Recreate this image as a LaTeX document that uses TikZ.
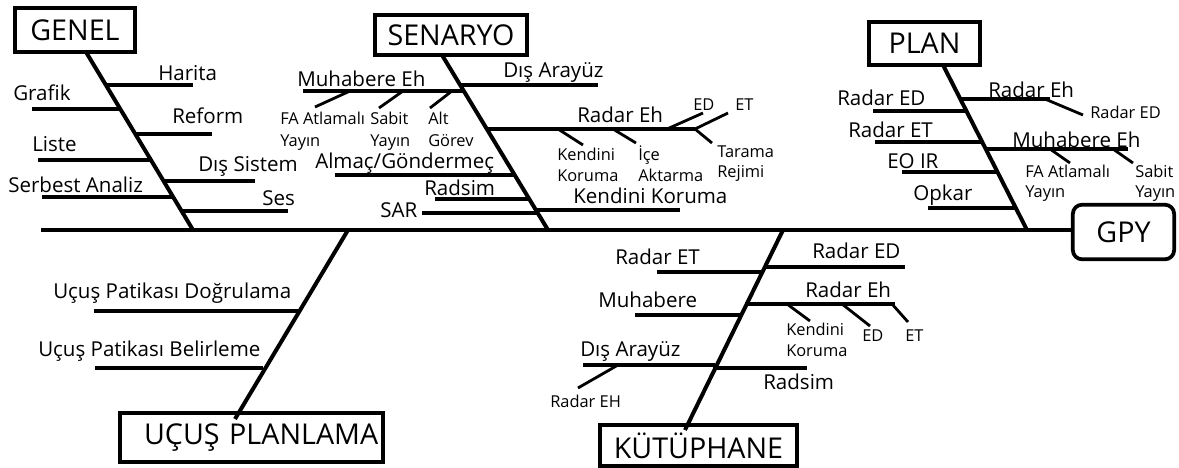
\documentclass[tikz,border=0pt]{standalone}
\usepackage{fontspec}
\setmainfont{Open Sans}
\tikzset{
  box/.style={draw, line width=2.8pt, inner sep=0pt, font=\fontsize{21.5}{25}\selectfont},
  bone/.style={line width=3pt},
  br/.style={line width=2.3pt},
  sb/.style={line width=2.1pt},
  lbl/.style={anchor=base west, inner sep=0pt, font=\fontsize{15.4}{18}\selectfont},
  sml/.style={anchor=base west, inner sep=0pt, font=\fontsize{12.3}{14}\selectfont},
}
\begin{document}
\begin{tikzpicture}[x=0.75pt,y=-0.75pt]
\useasboundingbox (0,0) rectangle (1179,468);
% ---------- boxes ----------
\node[box, minimum width=90pt, minimum height=33pt] (gen) at (75,30) {GENEL};
\node[box, minimum width=114pt, minimum height=30pt] (sen) at (451,35) {SENARYO};
\node[box, minimum width=83.25pt, minimum height=32.25pt] (plan) at (924.5,43.5) {PLAN};
\node[box, rounded corners=7pt, minimum width=76pt, minimum height=41pt] (gpy) at (1123.5,232) {GPY};
\node[box, minimum width=197.25pt, minimum height=36.75pt, text width=190pt, align=right] (ucus) at (251.5,437.5) {UÇUŞ PLANLAMA};
\node[box, minimum width=147.75pt, minimum height=30.75pt] (kut) at (698.5,445.5) {KÜTÜPHANE};
% ---------- spine ----------
\coordinate (spL) at (41,230);
\draw[bone] (spL) -- (gpy.west |- spL);
% ---------- bones ----------
\coordinate (genT) at (86,52);   \coordinate (genB) at (193,230);
\coordinate (senT) at (442,55);  \coordinate (senB) at (548,230);
\coordinate (plaT) at (943,65);  \coordinate (plaB) at (1027,230);
\coordinate (ucuT) at (348,230); \coordinate (ucuB) at (235,419);
\coordinate (kutT) at (783,230); \coordinate (kutB) at (685,430);
\draw[bone] (genT) -- (genB);
\draw[bone] (senT) -- (senB);
\draw[bone] (plaT) -- (plaB);
\draw[bone] (ucuT) -- (ucuB);
\draw[bone] (kutT) -- (kutB);
% ---------- GENEL branches ----------
\coordinate (g1a) at (106,85);  \coordinate (g1b) at (193,85);
\coordinate (g2a) at (32,109);  \coordinate (g2b) at (121,109);
\coordinate (g3a) at (136,134); \coordinate (g3b) at (212,134);
\coordinate (g4a) at (38,160);  \coordinate (g4b) at (152,160);
\coordinate (g5a) at (164,181); \coordinate (g5b) at (255,181);
\coordinate (g6a) at (42,197);  \coordinate (g6b) at (174,197);
\coordinate (g7a) at (182,211); \coordinate (g7b) at (288,211);
\foreach \i in {1,...,7} {\draw[br] (g\i a) -- (g\i b);}
\node[lbl] (tHarita) at (158,80) {Harita};
\node[lbl] (tGrafik) at (13,100) {Grafik};
\node[lbl] (tReform) at (172,123) {Reform};
\node[lbl] (tListe) at (32,151) {Liste};
\node[lbl] (tDisSis) at (198,171) {Dış Sistem};
\node[lbl] (tSerbest) at (8,192) {Serbest Analiz};
\node[lbl] (tSes) at (262,205) {Ses};
% ---------- SENARYO branches ----------
\coordinate (s1a) at (460,85);  \coordinate (s1b) at (598,85);
\coordinate (s2a) at (303,91);  \coordinate (s2b) at (464,91);
\coordinate (s3a) at (486,129); \coordinate (s3b) at (695,129);
\coordinate (s4a) at (335,175); \coordinate (s4b) at (514,175);
\coordinate (s5a) at (435,199); \coordinate (s5b) at (529,199);
\coordinate (s6a) at (535,210); \coordinate (s6b) at (680,210);
\coordinate (s7a) at (422,213); \coordinate (s7b) at (537,213);
\foreach \i in {1,...,7} {\draw[br] (s\i a) -- (s\i b);}
% Muhabere Eh subs
\coordinate (m1a) at (350,91); \coordinate (m1b) at (315,107);
\coordinate (m2a) at (403,91); \coordinate (m2b) at (379,108);
\coordinate (m3a) at (452,91); \coordinate (m3b) at (430,108);
% Radar Eh subs
\coordinate (r1a) at (558,129); \coordinate (r1b) at (583,145);
\coordinate (r2a) at (613,129); \coordinate (r2b) at (636,143);
\coordinate (r3a) at (667,129); \coordinate (r3b) at (703,113);
\coordinate (r4a) at (695,129); \coordinate (r4b) at (728,113);
\coordinate (r5a) at (695,129); \coordinate (r5b) at (712,143);
\foreach \i in {1,2,3} {\draw[sb] (m\i a) -- (m\i b);}
\foreach \i in {1,...,5} {\draw[sb] (r\i a) -- (r\i b);}
\node[lbl] (tDisAr) at (503,77) {Dış Arayüz};
\node[lbl] (tMuhEh) at (297,86) {Muhabere Eh};
\node[sml] (tFA1) at (280,124) {FA Atlamalı};
\node[sml] (tFA2) at (280,146) {Yayın};
\node[sml] (tSab1) at (370,124) {Sabit};
\node[sml] (tSab2) at (370,146) {Yayın};
\node[sml] (tAlt1) at (428,124) {Alt};
\node[sml] (tAlt2) at (428,146) {Görev};
\node[lbl] (tRadEh) at (577,122) {Radar Eh};
\node[sml] (tKen1) at (557,160) {Kendini};
\node[sml] (tKen2) at (557,181) {Koruma};
\node[sml] (tIce1) at (638,160) {İçe};
\node[sml] (tIce2) at (638,181) {Aktarma};
\node[sml] (tED1) at (693,110) {ED};
\node[sml] (tET1) at (735,110) {ET};
\node[sml] (tTar1) at (717,157) {Tarama};
\node[sml] (tTar2) at (717,177) {Rejimi};
\node[lbl] (tAlmac) at (315,168) {Almaç/Göndermeç};
\node[lbl] (tRadsim) at (424,195) {Radsim};
\node[lbl] (tKenKor) at (573,203) {Kendini Koruma};
\node[lbl] (tSAR) at (380,217) {SAR};
% ---------- PLAN branches ----------
\coordinate (p1a) at (873,111); \coordinate (p1b) at (967,111);
\coordinate (p2a) at (960,99);  \coordinate (p2b) at (1050,99);
\coordinate (p3a) at (875,142); \coordinate (p3b) at (983,142);
\coordinate (p4a) at (986,149); \coordinate (p4b) at (1128,149);
\coordinate (p5a) at (902,172); \coordinate (p5b) at (998,172);
\coordinate (p6a) at (928,208); \coordinate (p6b) at (1016,208);
\foreach \i in {1,...,6} {\draw[br] (p\i a) -- (p\i b);}
\coordinate (q1a) at (1045,99);  \coordinate (q1b) at (1083,115);
\coordinate (q2a) at (1050,149); \coordinate (q2b) at (1070,163);
\coordinate (q3a) at (1113,149); \coordinate (q3b) at (1133,163);
\foreach \i in {1,2,3} {\draw[sb] (q\i a) -- (q\i b);}
\node[lbl] (tPRED) at (837,105) {Radar ED};
\node[lbl] (tPREh) at (988,97) {Radar Eh};
\node[sml] (tPRED2) at (1090,118) {Radar ED};
\node[lbl] (tPRET) at (848,137) {Radar ET};
\node[lbl] (tPMuh) at (1012,147) {Muhabere Eh};
\node[sml] (tPFA1) at (1025,177) {FA Atlamalı};
\node[sml] (tPFA2) at (1025,197) {Yayın};
\node[sml] (tPSab1) at (1135,177) {Sabit};
\node[sml] (tPSab2) at (1135,197) {Yayın};
\node[lbl] (tPEO) at (887,168) {EO IR};
\node[lbl] (tPOpk) at (913,200) {Opkar};
% ---------- UÇUŞ PLANLAMA branches ----------
\coordinate (u1a) at (94,311); \coordinate (u1b) at (298,311);
\coordinate (u2a) at (95,368); \coordinate (u2b) at (263,368);
\draw[br] (u1a) -- (u1b);
\draw[br] (u2a) -- (u2b);
\node[lbl] (tUPD) at (53,298) {Uçuş Patikası Doğrulama};
\node[lbl] (tUPB) at (38,356) {Uçuş Patikası Belirleme};
% ---------- KÜTÜPHANE branches ----------
\coordinate (k1a) at (657,272); \coordinate (k1b) at (762,272);
\coordinate (k2a) at (764,267); \coordinate (k2b) at (905,267);
\coordinate (k3a) at (635,315); \coordinate (k3b) at (740,315);
\coordinate (k4a) at (745,304); \coordinate (k4b) at (895,304);
\coordinate (k5a) at (583,365); \coordinate (k5b) at (715,365);
\coordinate (k6a) at (713,368); \coordinate (k6b) at (807,368);
\foreach \i in {1,...,6} {\draw[br] (k\i a) -- (k\i b);}
\coordinate (n1a) at (787,304); \coordinate (n1b) at (810,321);
\coordinate (n2a) at (842,304); \coordinate (n2b) at (870,326);
\coordinate (n3a) at (892,304); \coordinate (n3b) at (908,322);
\coordinate (n4a) at (618,365); \coordinate (n4b) at (578,388);
\foreach \i in {1,...,4} {\draw[sb] (n\i a) -- (n\i b);}
\node[lbl] (tKRET) at (615,264) {Radar ET};
\node[lbl] (tKRED) at (812,258) {Radar ED};
\node[lbl] (tKMuh) at (598,307) {Muhabere};
\node[lbl] (tKREh) at (805,297) {Radar Eh};
\node[sml] (tKKen1) at (786,335) {Kendini};
\node[sml] (tKKen2) at (786,356) {Koruma};
\node[sml] (tKED) at (862,341) {ED};
\node[sml] (tKET) at (905,341) {ET};
\node[lbl] (tKDis) at (580,356) {Dış Arayüz};
\node[sml] (tKREH) at (550,407) {Radar EH};
\node[lbl] (tKRad) at (763,389) {Radsim};
\end{tikzpicture}
\end{document}
